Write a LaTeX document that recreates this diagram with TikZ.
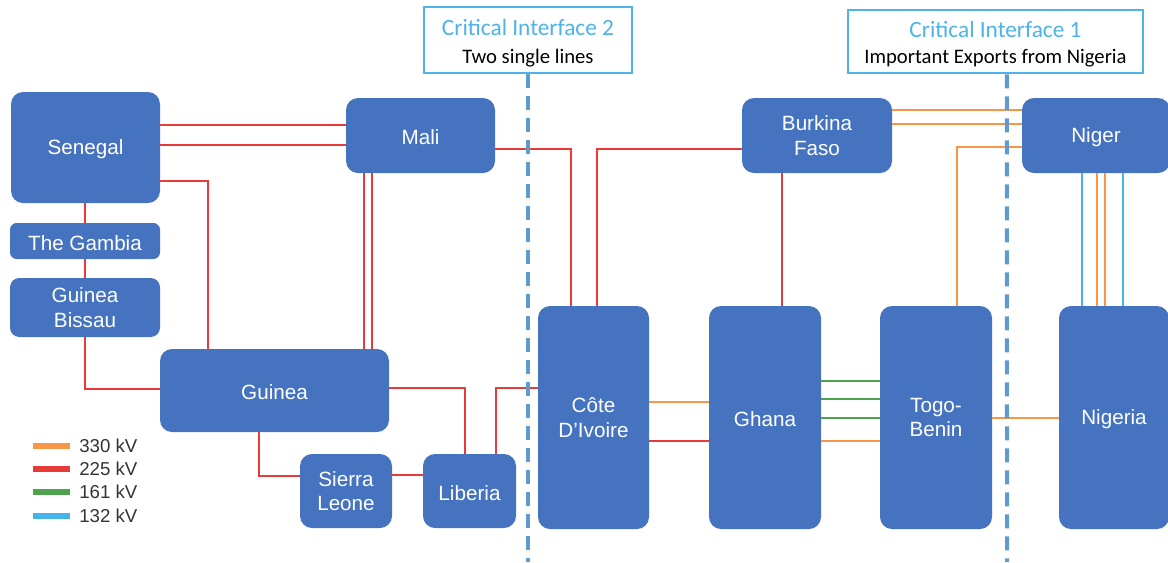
\documentclass[tikz,border=0pt]{standalone}
\usepackage{fontspec}
\setmainfont{Liberation Sans}
\newfontfamily\calibri{Carlito}
\usetikzlibrary{positioning}

\definecolor{boxblue}{HTML}{4673BF}
\definecolor{kvorange}{HTML}{F79646}
\definecolor{kvred}{HTML}{E93A3A}
\definecolor{kvgreen}{HTML}{4EA24E}
\definecolor{kvblue}{HTML}{45B4EC}
\definecolor{ifblue}{HTML}{4DB3E8}
\definecolor{cutblue}{HTML}{5F9BCF}

\tikzset{country/.style={rectangle,rounded corners=9pt,fill=boxblue,text=white,
    align=center,inner sep=0pt,font=\fontsize{15.5}{18.5}\selectfont,
    execute at begin node={\rule{0pt}{14pt}}}}
\tikzset{ifbox/.style={rectangle,draw=ifblue,line width=2.2pt,fill=white,align=center,
    inner sep=0pt,font=\calibri\fontsize{15.5}{20}\selectfont}}
\tikzset{cut/.style={draw=cutblue,line width=3pt,dash pattern=on 10.5pt off 6pt}}
\tikzset{l330/.style={draw=kvorange,line width=2pt}}
\tikzset{l225/.style={draw=kvred,line width=2.1pt}}
\tikzset{l161/.style={draw=kvgreen,line width=2pt}}
\tikzset{l132/.style={draw=kvblue,line width=1.8pt}}
\tikzset{swatch/.style={rectangle,inner sep=0pt,minimum width=27.75pt,minimum height=5pt}}
\tikzset{key/.style={anchor=west,inner sep=0pt,text=black!80,font=\fontsize{14}{16}\selectfont}}

\begin{document}
\begin{tikzpicture}[x=0.75pt,y=-0.75pt]
    \useasboundingbox (0,0) rectangle (1168,562);
    % west
    \node[country,minimum width=111.75pt,minimum height=83.25pt] (sen) at (85.5,147.5)  {Senegal};
    \node[country,rounded corners=5pt,minimum width=112.5pt,minimum height=27pt] (gam) at (85,241) {The Gambia};
    \node[country,rounded corners=7pt,minimum width=112.5pt,minimum height=44.25pt] (gbi) at (85,307.5) {Guinea\\Bissau};
    \node[country,minimum width=111.75pt,minimum height=56.25pt] (mali) at (420.5,135.5) {Mali};
    \node[country,minimum width=171.75pt,minimum height=62.25pt] (gui) at (274.5,390.5) {Guinea};
    \node[country,minimum width=69pt,minimum height=55.5pt]  (sle) at (346,491)   {Sierra\\Leone};
    \node[country,minimum width=69.75pt,minimum height=55.5pt] (lib) at (469.5,491) {Liberia};
    % east
    \node[country,minimum width=83.25pt,minimum height=167.25pt] (civ) at (593.5,417.5) {Côte\\D’Ivoire};
    \node[country,minimum width=84pt,minimum height=167.25pt]  (gha) at (765,417.5)  {Ghana};
    \node[country,minimum width=84pt,minimum height=167.25pt]  (tog) at (936,417.5)  {Togo-\\Benin};
    \node[country,minimum width=82.5pt,minimum height=167.25pt] (nga) at (1114,417.5) {Nigeria};
    \node[country,minimum width=112.5pt,minimum height=56.25pt] (bfa) at (817,135.5) {Burkina\\Faso};
    \node[country,minimum width=111pt,minimum height=56.25pt]  (ngr) at (1096,135.5) {Niger};

    % 225 kV lines
    \draw[l225] (sen.east |- 0,125) -- (mali.west |- 0,125);
    \draw[l225] (sen.east |- 0,145) -- (mali.west |- 0,145);
    \draw[l225] (sen.east |- 0,181) -| (gui.north -| 208,0);
    \draw[l225] (mali.south -| 364,0) -- (gui.north -| 364,0);
    \draw[l225] (mali.south -| 372,0) -- (gui.north -| 372,0);
    \draw[l225] (sen.south -| gam.north) -- (gam.north);
    \draw[l225] (gam.south) -- (gbi.north);
    \draw[l225] (gbi.south) |- (gui.west |- 0,389);
    \draw[l225] (gui.east |- 0,388) -| (lib.north -| 465,0);
    \draw[l225] (gui.south -| 259,0) |- (sle.west |- 0,476);
    \draw[l225] (sle.east |- 0,475) -- (lib.west |- 0,475);
    \draw[l225] (lib.north -| 496,0) |- (civ.west |- 0,388);
    \draw[l225] (mali.east |- 0,149) -| (civ.north -| 571,0);
    \draw[l225] (bfa.west |- 0,149) -| (civ.north -| 597,0);
    \draw[l225] (bfa.south -| 782,0) -- (gha.north -| 782,0);
    \draw[l225] (civ.east |- 0,441) -- (gha.west |- 0,441);
    % 330 kV lines
    \draw[l330] (civ.east |- 0,402) -- (gha.west |- 0,402);
    \draw[l330] (gha.east |- 0,441) -- (tog.west |- 0,441);
    \draw[l330] (tog.east |- 0,418) -- (nga.west |- 0,418);
    \draw[l330] (bfa.east |- 0,110) -- (ngr.west |- 0,110);
    \draw[l330] (bfa.east |- 0,124) -- (ngr.west |- 0,124);
    \draw[l330] (ngr.west |- 0,147) -| (tog.north -| 957,0);
    \draw[l330] (ngr.south -| 1097,0) -- (nga.north -| 1097,0);
    \draw[l330] (ngr.south -| 1105,0) -- (nga.north -| 1105,0);
    % 161 kV lines
    \foreach \y in {381,399,418}
      \draw[l161] (gha.east |- 0,\y) -- (tog.west |- 0,\y);
    % 132 kV lines
    \draw[l132] (ngr.south -| 1082,0) -- (nga.north -| 1082,0);
    \draw[l132] (ngr.south -| 1123,0) -- (nga.north -| 1123,0);

    % critical interfaces
    \node[ifbox,minimum width=156pt,minimum height=49.5pt] (ci2) at (528,40)
      {\rule{0pt}{17pt}\textcolor{ifblue}{\fontsize{17.5}{20}\selectfont Critical Interface 2}\\[1pt]Two single lines};
    \node[ifbox,minimum width=221.25pt,minimum height=47.25pt] (ci1) at (995.5,41.5)
      {\rule{0pt}{16pt}\textcolor{ifblue}{\fontsize{17.5}{20}\selectfont Critical Interface 1}\\[0pt]Important Exports from Nigeria};
    \coordinate (cut2) at (528,562);
    \coordinate (cut1) at (1007,562);
    \draw[cut] (ci2.south) -- (cut2);
    \draw[cut] ([xshift=8.6pt]ci1.south) -- (cut1);

    % legend
    \node[key] (k330) at (79,446) {330 kV};
    \node[key] (k225) at (79,469) {225 kV};
    \node[key] (k161) at (79,492) {161 kV};
    \node[key] (k132) at (79,516) {132 kV};
    \node[swatch,fill=kvorange,left=6.75pt of k330] (s330) {};
    \node[swatch,fill=kvred,left=6.75pt of k225]    (s225) {};
    \node[swatch,fill=kvgreen,left=6.75pt of k161]  (s161) {};
    \node[swatch,fill=kvblue,left=6.75pt of k132]   (s132) {};
  \end{tikzpicture}
\end{document}
